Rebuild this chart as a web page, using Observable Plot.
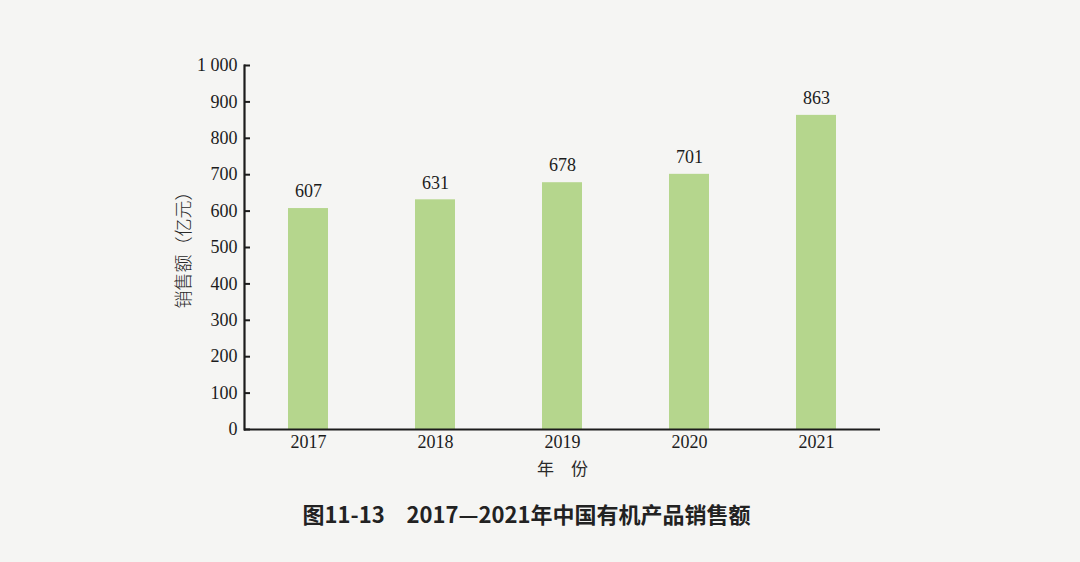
<!DOCTYPE html>
<html>
<head>
<meta charset="utf-8">
<script src="https://cdn.jsdelivr.net/npm/d3@7"></script>
<script src="https://cdn.jsdelivr.net/npm/@observablehq/plot@0.6"></script>
<style>
  html, body { margin: 0; padding: 0; background: #f5f5f3; }
  #chart { width: 1080px; height: 562px; }
</style>
</head>
<body>
<div id="chart"></div>
<script>
const years = ["2017", "2018", "2019", "2020", "2021"];
const sales = [607, 631, 678, 701, 863];
const yTicks = [0, 100, 200, 300, 400, 500, 600, 700, 800, 900, 1000];
const yTickLabels = ["0", "100", "200", "300", "400", "500", "600", "700", "800", "900", "1 000"];
const yTitle = "销售额（亿元）";
const xTitle = "年　份";
const caption = "图11-13　2017—2021年中国有机产品销售额";

const data = years.map((year, i) => ({year, value: sales[i]}));

const serif = "'Liberation Serif', 'DejaVu Serif', serif";
const cjk = "'Noto Sans CJK SC', 'Noto Sans', sans-serif";
const ink = "#1c1c1c";

const chart = Plot.plot({
  width: 1080,
  height: 562,
  marginLeft: 244,
  marginRight: 200,
  marginTop: 65,
  marginBottom: 133,
  style: {background: "#f5f5f3", fontFamily: serif, color: ink},
  x: {domain: years, paddingInner: 0.686, paddingOuter: 0.343, label: null},
  y: {domain: [0, 1000], label: null},
  marks: [
    Plot.barY(data, {x: "year", y: "value", fill: "#b5d68d"}),
    Plot.text(data, {x: "year", y: "value", text: d => String(d.value), dy: -17, fontSize: 18, fontFamily: serif, fill: ink}),
    Plot.axisY({ticks: yTicks, tickSize: 0, tickPadding: 7, tickFormat: d => yTickLabels[yTicks.indexOf(d)], fontSize: 18, fontFamily: serif, fill: ink, label: null}),
    Plot.axisY({ticks: yTicks, tickSize: -6, text: null, stroke: ink, strokeWidth: 2, label: null}),
    Plot.axisX({tickSize: 0, tickPadding: 6, fontSize: 18, fontFamily: serif, fill: ink, label: null}),
    Plot.ruleY([0], {stroke: ink, strokeWidth: 2.2}),
    Plot.frame({anchor: "left", stroke: ink, strokeWidth: 2.2}),
    Plot.text([yTitle], {text: d => d, frameAnchor: "left", textAnchor: "middle", dx: -60, dy: -2, rotate: -90, fontSize: 18, letterSpacing: "0.1em", fontFamily: cjk, fontWeight: 300, fill: "#2a2a2a"}),
    Plot.text([xTitle], {text: d => d, frameAnchor: "bottom", dy: 45, fontSize: 17, fontFamily: cjk, fill: "#2a2a2a"}),
    Plot.text([caption], {text: d => d, frameAnchor: "bottom", dx: -36, dy: 93, fontSize: 22, fontWeight: "bold", fontFamily: cjk, fill: "#222"})
  ]
});
document.getElementById("chart").appendChild(chart);
</script>
</body>
</html>
